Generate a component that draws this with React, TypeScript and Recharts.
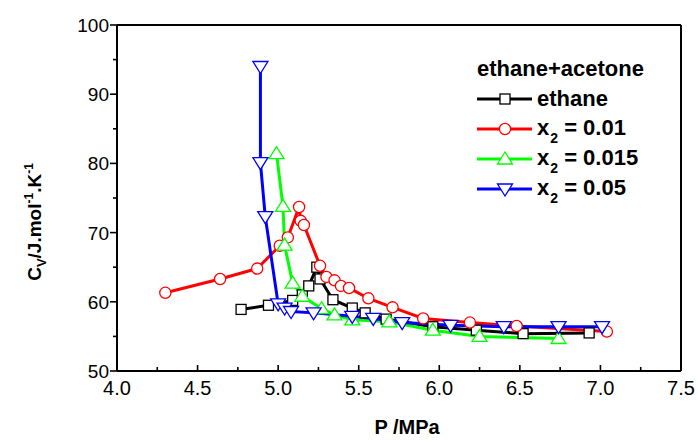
import { LineChart, Line, XAxis, YAxis, ReferenceLine } from "recharts";

// C_v vs P, ethane + acetone
const ethaneP = [4.77, 4.94, 5.09, 5.15, 5.19, 5.24, 5.26, 5.34, 5.46, 5.54, 5.67, 5.96, 6.23, 6.52, 6.93];
const ethaneCv = [58.9, 59.5, 60.2, 61.0, 62.3, 65.0, 63.3, 60.3, 59.1, 58.4, 57.5, 56.4, 55.9, 55.4, 55.5];

const x001P = [4.3, 4.64, 4.87, 5.01, 5.06, 5.13, 5.14, 5.16, 5.26, 5.3, 5.35, 5.39, 5.44, 5.56, 5.71, 5.9, 6.19, 6.48, 7.04];
const x001Cv = [61.3, 63.3, 64.8, 68.1, 69.3, 73.7, 71.7, 71.1, 65.2, 63.6, 63.1, 62.3, 62.0, 60.5, 59.2, 57.6, 57.0, 56.5, 55.7];

const x0015P = [4.99, 5.03, 5.04, 5.09, 5.15, 5.27, 5.35, 5.46, 5.69, 5.96, 6.25, 6.74];
const x0015Cv = [81.4, 73.8, 68.2, 62.7, 60.8, 59.0, 58.1, 57.4, 57.1, 55.9, 55.0, 54.7];

const x005P = [4.89, 4.89, 4.92, 5.0, 5.04, 5.08, 5.22, 5.46, 5.59, 5.77, 6.07, 6.4, 6.74, 7.01];
const x005Cv = [94.0, 80.1, 72.3, 59.7, 59.1, 58.6, 58.4, 57.9, 57.6, 57.0, 56.6, 56.4, 56.4, 56.4];

const xTicks = [4.0, 4.25, 4.5, 4.75, 5.0, 5.25, 5.5, 5.75, 6.0, 6.25, 6.5, 6.75, 7.0, 7.25, 7.5];
const yTicks = [50, 55, 60, 65, 70, 75, 80, 85, 90, 95, 100];

const legendTitle = "ethane+acetone";

type Shape = "square" | "circle" | "up" | "down";

const toRows = (ps: number[], cvs: number[]) => ps.map((p, i) => ({ p, cv: cvs[i] }));

const series = [
  { id: "ethane", label: "ethane", sub: "", rest: "", color: "#000000", shape: "square" as Shape, data: toRows(ethaneP, ethaneCv) },
  { id: "x001", label: "x", sub: "2", rest: " = 0.01", color: "#ff0000", shape: "circle" as Shape, data: toRows(x001P, x001Cv) },
  { id: "x0015", label: "x", sub: "2", rest: " = 0.015", color: "#00ff00", shape: "up" as Shape, data: toRows(x0015P, x0015Cv) },
  { id: "x005", label: "x", sub: "2", rest: " = 0.05", color: "#0000ff", shape: "down" as Shape, data: toRows(x005P, x005Cv) },
];

const FONT = "'Liberation Sans', Arial, Helvetica, sans-serif";

function Marker({ cx, cy, shape, color }: { cx: number; cy: number; shape: Shape; color: string }) {
  const sw = 1.3;
  if (shape === "square")
    return <rect x={cx - 5} y={cy - 5} width={10} height={10} fill="#fff" stroke={color} strokeWidth={sw} />;
  if (shape === "circle") return <circle cx={cx} cy={cy} r={5.6} fill="#fff" stroke={color} strokeWidth={sw} />;
  if (shape === "up")
    return (
      <polygon
        points={`${cx},${cy - 7} ${cx - 7.5},${cy + 5} ${cx + 7.5},${cy + 5}`}
        fill="#fff"
        stroke={color}
        strokeWidth={sw}
      />
    );
  return (
    <polygon
      points={`${cx},${cy + 7} ${cx - 7.5},${cy - 5} ${cx + 7.5},${cy - 5}`}
      fill="#fff"
      stroke={color}
      strokeWidth={sw}
    />
  );
}

const XTick = (props: any) => {
  const { x, y, payload } = props;
  const v = payload.value as number;
  const major = Math.abs(v * 2 - Math.round(v * 2)) < 1e-6;
  return (
    <g>
      <line x1={x} x2={x} y1={y} y2={y - (major ? 6 : 4)} stroke="#000" strokeWidth={1.6} />
      {major && (
        <text x={x} y={y + 24} textAnchor="middle" fontFamily={FONT} fontSize={20} fill="#000">
          {v.toFixed(1)}
        </text>
      )}
    </g>
  );
};

const YTick = (props: any) => {
  const { x, y, payload } = props;
  const v = payload.value as number;
  const major = v % 10 === 0;
  return (
    <g>
      <line x1={x} x2={x - (major ? 7 : 4)} y1={y} y2={y} stroke="#000" strokeWidth={1.6} />
      {major && (
        <text x={x - 8} y={y + 7} textAnchor="end" fontFamily={FONT} fontSize={19} fill="#000">
          {v}
        </text>
      )}
    </g>
  );
};

const YTitle = () => (
  <text
    x={0}
    y={0}
    transform="translate(41,222) rotate(-90)"
    textAnchor="middle"
    fontFamily={FONT}
    fontWeight="bold"
    fontSize={19}
    fill="#000"
  >
    C
    <tspan fontSize={13} dy={5}>V</tspan>
    <tspan dy={-5}>/J.mol</tspan>
    <tspan fontSize={12} dy={-8}>-1</tspan>
    <tspan dy={8}>.K</tspan>
    <tspan fontSize={12} dy={-8}>-1</tspan>
  </text>
);

const XTitle = () => (
  <text x={407} y={434} textAnchor="middle" fontFamily={FONT} fontWeight="bold" fontSize={20} fill="#000">
    P /MPa
  </text>
);

const LegendBox = () => (
  <div
    style={{
      position: "absolute",
      left: 477,
      top: 56,
      width: 220,
      fontFamily: FONT,
      fontWeight: "bold",
      color: "#000",
    }}
  >
    <div style={{ fontSize: 22, lineHeight: "26px", marginBottom: 2, whiteSpace: "pre" }}>{legendTitle}</div>
    {series.map((s) => (
      <div key={s.id} style={{ display: "flex", alignItems: "center", height: 30 }}>
        <svg width={56} height={20} style={{ marginRight: 4, flexShrink: 0 }}>
          <line x1={0} x2={55} y1={10} y2={10} stroke={s.color} strokeWidth={3} />
          <Marker cx={28} cy={10} shape={s.shape} color={s.color} />
        </svg>
        <span style={{ fontSize: 22, lineHeight: "22px", whiteSpace: "pre" }}>
          {s.label}
          {s.sub && (
            <span style={{ fontSize: 14, position: "relative", top: 8, marginLeft: 1 }}>{s.sub}</span>
          )}
          {s.rest}
        </span>
      </div>
    ))}
  </div>
);

export default function App() {
  return (
    <div style={{ position: "absolute", left: 0, top: 0, width: 698, height: 441, background: "#fff" }}>
      <LineChart width={698} height={441} margin={{ top: 25, right: 17, bottom: 0, left: 0 }}>
        <XAxis
          type="number"
          dataKey="p"
          domain={[4, 7.5]}
          ticks={xTicks}
          interval={0}
          allowDataOverflow
          height={70}
          tickSize={0}
          tickMargin={0}
          tickLine={false}
          tick={<XTick />}
          axisLine={{ stroke: "#000", strokeWidth: 2 }}
          label={<XTitle />}
        />
        <YAxis
          type="number"
          dataKey="cv"
          domain={[50, 100]}
          ticks={yTicks}
          interval={0}
          allowDataOverflow
          width={117}
          tickSize={0}
          tickMargin={0}
          tickLine={false}
          tick={<YTick />}
          axisLine={{ stroke: "#000", strokeWidth: 2 }}
          label={<YTitle />}
        />
        <ReferenceLine y={100} stroke="#000" strokeWidth={2} />
        <ReferenceLine x={7.5} stroke="#000" strokeWidth={2} />
        {series.map((s) => (
          <Line
            key={s.id}
            data={s.data}
            dataKey="cv"
            name={s.id}
            type="linear"
            stroke={s.color}
            strokeWidth={3}
            isAnimationActive={false}
            dot={(props: any) => (
              <Marker key={`${s.id}-${props.index}`} cx={props.cx} cy={props.cy} shape={s.shape} color={s.color} />
            )}
            activeDot={false}
          />
        ))}
      </LineChart>
      <LegendBox />
    </div>
  );
}
